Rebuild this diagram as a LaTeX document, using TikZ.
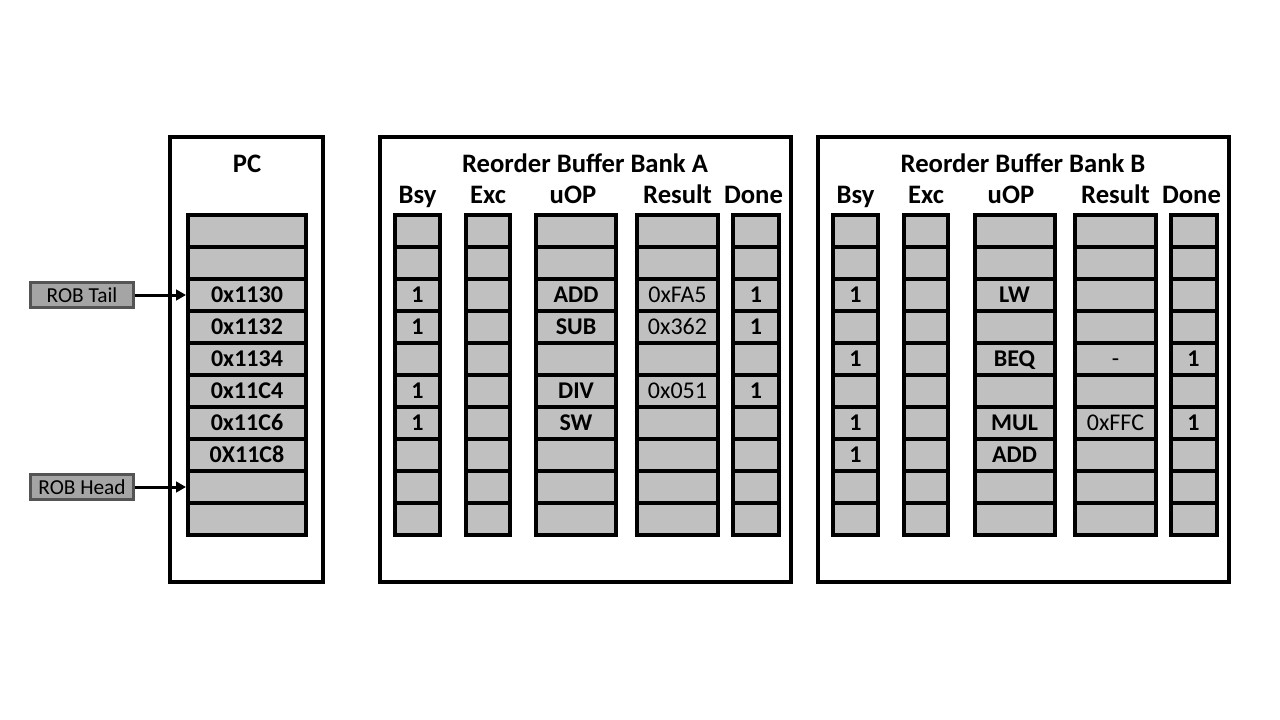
\documentclass[tikz,border=0pt]{standalone}
\usepackage{fontspec}
\setmainfont{Carlito}
\usetikzlibrary{positioning,arrows.meta}
\definecolor{cellgray}{HTML}{C0C0C0}
\definecolor{taggray}{HTML}{A5A5A5}
\definecolor{tagline}{HTML}{545454}

\begin{document}
\begin{tikzpicture}[
  x=0.75pt, y=-0.75pt,
  font=\fontsize{18}{22}\selectfont,
  panel/.style={draw, line width=3pt, minimum width=308.25pt,
                minimum height=333.75pt, inner sep=0pt},
  cell/.style={draw, line width=3pt, fill=cellgray, minimum height=24pt,
               inner sep=0pt, text height=11.6pt, text depth=0pt,
               font=\fontsize{18}{22}\selectfont\bfseries},
  val/.style={cell, font=\fontsize{18}{22}\selectfont},
  banktitle/.style={anchor=base, font=\fontsize{20}{24}\selectfont\bfseries},
  colhead/.style={anchor=base, font=\fontsize{20}{24}\selectfont\bfseries},
  tag/.style={draw=tagline, line width=2.5pt, fill=taggray,
              minimum width=77pt, minimum height=18.5pt, inner sep=0pt,
              font=\fontsize{16}{19}\selectfont},
  arrow/.style={-{Triangle[length=7.5pt,width=8pt]}, line width=2.25pt}
]
\useasboundingbox (0,0) rectangle (1280,720);

% outer panels
\node[panel, minimum width=114.75pt] (pcpanel) at (246.5,359.5) {};
\node[panel] (bankA) at (585.5,359.5) {};
\node[panel] (bankB) at (1023.5,359.5) {};

\node[banktitle] (pctitle) at (247,173) {PC};
\node[banktitle] (titleA) at (585,173) {Reorder Buffer Bank A};
\node[banktitle] (titleB) at (1023,173) {Reorder Buffer Bank B};

\foreach \t/\x in {Bsy/417.5, Exc/488, uOP/573, Result/677.5, Done/753.5} {
  \node[colhead] (headA\t) at (\x,204) {\t};
  \node[colhead] (headB\t) at (\x+438,204) {\t};
}

% PC column
\foreach \v [count=\r] in {{},{},0x1130,0x1132,0x1134,0x11C4,0x11C6,0X11C8,{},{}}
  \node[cell, minimum width=88.5pt] (pc-\r) at (247,199+32*\r) {\v};

% bank A
\foreach \v [count=\r] in {{},{},1,1,{},1,1,{},{},{}}
  \node[cell, minimum width=33.75pt] (aBsy-\r) at (417.5,199+32*\r) {\v};
\foreach \r in {1,...,10}
  \node[cell, minimum width=33pt] (aExc-\r) at (488,199+32*\r) {};
\foreach \v [count=\r] in {{},{},ADD,SUB,{},DIV,SW,{},{},{}}
  \node[cell, minimum width=60pt] (aOp-\r) at (576,199+32*\r) {\v};
\foreach \v [count=\r] in {{},{},0xFA5,0x362,{},0x051,{},{},{},{}}
  \node[val, minimum width=60.75pt] (aRes-\r) at (677.5,199+32*\r) {\v};
\foreach \v [count=\r] in {{},{},1,1,{},1,{},{},{},{}}
  \node[cell, minimum width=34.5pt] (aDone-\r) at (756,199+32*\r) {\v};

% bank B
\foreach \v [count=\r] in {{},{},1,{},1,{},1,1,{},{}}
  \node[cell, minimum width=33.75pt] (bBsy-\r) at (855.5,199+32*\r) {\v};
\foreach \r in {1,...,10}
  \node[cell, minimum width=33pt] (bExc-\r) at (926,199+32*\r) {};
\foreach \v [count=\r] in {{},{},LW,{},BEQ,{},MUL,ADD,{},{}}
  \node[cell, minimum width=60pt] (bOp-\r) at (1014.5,199+32*\r) {\v};
\foreach \v [count=\r] in {{},{},{},{},-,{},0xFFC,{},{},{}}
  \node[val, minimum width=60.75pt] (bRes-\r) at (1115.5,199+32*\r) {\v};
\foreach \v [count=\r] in {{},{},{},{},1,{},1,{},{},{}}
  \node[cell, minimum width=34.5pt] (bDone-\r) at (1193.5,199+32*\r) {\v};

% pointers
\node[tag] (tail) at (82,295) {ROB Tail};
\node[tag] (head) at (82,487) {ROB Head};
\draw[arrow] (tail) -- (pc-3);
\draw[arrow] (head) -- (pc-9);
\end{tikzpicture}
\end{document}
